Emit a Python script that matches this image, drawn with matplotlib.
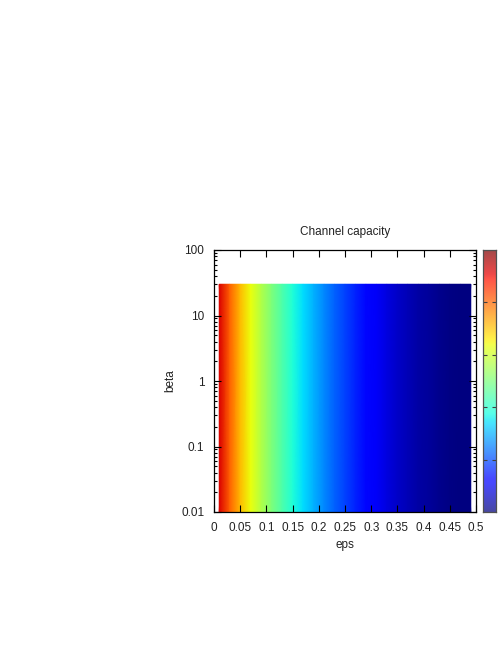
import numpy as np
import matplotlib
matplotlib.use("Agg")
import matplotlib.pyplot as plt
from matplotlib.ticker import FixedLocator, FixedFormatter, LogLocator, NullFormatter

# ---- data ----
eps_values = [0.01, 0.03, 0.05, 0.07, 0.09, 0.11, 0.13, 0.15, 0.17, 0.19,
              0.21, 0.23, 0.25, 0.27, 0.29, 0.31, 0.33, 0.35, 0.37, 0.39,
              0.41, 0.43, 0.45, 0.47, 0.49]
capacity = [0.919, 0.806, 0.714, 0.634, 0.564, 0.500, 0.443, 0.390, 0.342, 0.298,
            0.258, 0.222, 0.189, 0.159, 0.131, 0.107, 0.085, 0.066, 0.049, 0.035,
            0.024, 0.014, 0.007, 0.003, 0.000]
beta_range = [0.01, 30]
x_ticks = [0, 0.05, 0.1, 0.15, 0.2, 0.25, 0.3, 0.35, 0.4, 0.45, 0.5]
x_tick_labels = ["0", "0.05", "0.1", "0.15", "0.2", "0.25", "0.3", "0.35", "0.4", "0.45", "0.5"]
y_ticks = [0.01, 0.1, 1, 10, 100]
y_tick_labels = ["0.01", "0.1", "1", "10", "100"]
cb_ticks = [0.2, 0.4, 0.6, 0.8]

plt.rcParams['font.family'] = ['Liberation Sans', 'DejaVu Sans']
FS = 8.5

W, H = 498, 645
fig = plt.figure(figsize=(W / 100, H / 100), dpi=100)

def rect(x0, y0, x1, y1):
    return [x0 / W, 1 - y1 / H, (x1 - x0) / W, (y1 - y0) / H]

ax = fig.add_axes(rect(214, 250, 476, 512))
X, Y = np.meshgrid(eps_values, beta_range)
C = np.vstack([capacity, capacity])
ax.pcolormesh(X, Y, C, cmap='jet', vmin=0, vmax=1, shading='gouraud')
ax.set_yscale('log')
ax.set_xlim(0, 0.5)
ax.set_ylim(0.01, 100)

ax.xaxis.set_major_locator(FixedLocator(x_ticks))
ax.xaxis.set_major_formatter(FixedFormatter(x_tick_labels))
ax.yaxis.set_major_locator(FixedLocator(y_ticks))
ax.yaxis.set_major_formatter(FixedFormatter(y_tick_labels))
ax.yaxis.set_minor_locator(LogLocator(base=10, subs=np.arange(2, 10)))
ax.yaxis.set_minor_formatter(NullFormatter())

ax.tick_params(which='both', direction='in', top=True, right=True, width=0.8, color='black')
ax.tick_params(which='major', length=5, labelsize=FS, labelcolor='#222222', pad=7)
ax.tick_params(which='minor', length=2.5)
for s in ax.spines.values():
    s.set_linewidth(0.9)
    s.set_color('black')

ax.text(0.5, (512 - 232) / 262, "Channel capacity", transform=ax.transAxes,
        ha='center', va='center', fontsize=FS, color='#222222')
ax.set_xlabel("eps", fontsize=FS, color='#222222')
ax.set_ylabel("beta", fontsize=FS, color='#222222')
ax.xaxis.set_label_coords(0.5, (512 - 545) / 262)
ax.yaxis.set_label_coords((170 - 214) / 262, 0.5)
ax.xaxis.label.set_va('center')
ax.yaxis.label.set_va('center')

# colorbar
cax = fig.add_axes(rect(483, 250, 496, 512))
grad = np.linspace(0, 1, 256).reshape(-1, 1)
cax.imshow(grad, cmap='jet', aspect='auto', origin='lower', extent=[0, 1, 0, 1], alpha=0.72)
cax.set_xlim(0, 1)
cax.set_ylim(0, 1)
cax.set_xticks([])
cax.yaxis.set_major_locator(FixedLocator(cb_ticks))
cax.tick_params(axis='y', direction='in', left=True, right=True, labelleft=False,
                labelright=False, length=3.2, width=0.8, color='#404040')
for s in cax.spines.values():
    s.set_linewidth(0.9)
    s.set_color('#505050')

fig.savefig("out.png", dpi=100)
